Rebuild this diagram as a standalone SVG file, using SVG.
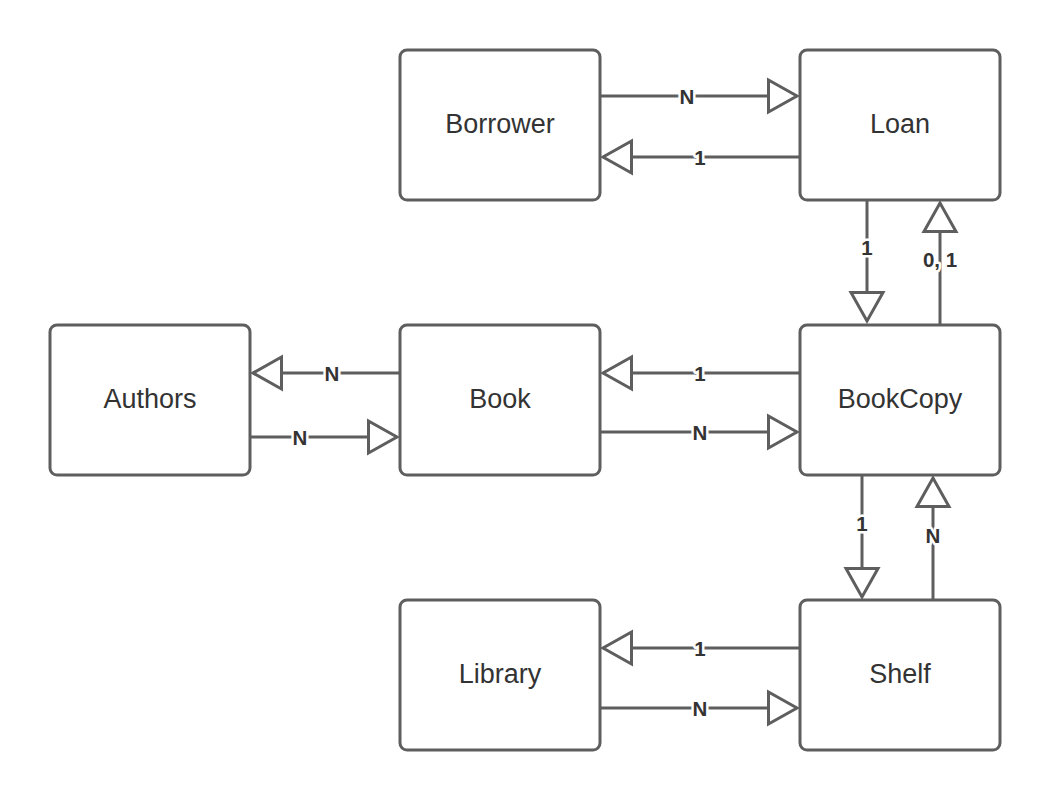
<svg xmlns="http://www.w3.org/2000/svg" width="1050" height="800" viewBox="0 0 1050 800">
<style>
.box{fill:#fff;stroke:#5e5e5e;stroke-width:3}
.name{font-family:"Liberation Sans",Arial,sans-serif;font-size:27px;fill:#333;text-anchor:middle}
.ln{fill:none;stroke:#5e5e5e;stroke-width:3;marker-end:url(#tri)}
.lbl{font-family:"Liberation Sans",Arial,sans-serif;font-size:20.5px;font-weight:bold;fill:#333;text-anchor:middle;stroke:#fff;stroke-width:5;paint-order:stroke;stroke-linejoin:round}
</style>
<defs>
<marker id="tri" markerUnits="userSpaceOnUse" markerWidth="36" markerHeight="40" viewBox="0 0 36 40" refX="31" refY="20" orient="auto">
<path d="M2.5,4 L31,20 L2.5,36 Z" fill="#fff" stroke="#5e5e5e" stroke-width="3" stroke-linejoin="miter"/>
</marker>
</defs>
<g id="connectors">
<line class="ln" x1="600" y1="96" x2="797" y2="96"/>
<text class="lbl" x="687" y="103.5">N</text>
<line class="ln" x1="800" y1="157" x2="603" y2="157"/>
<text class="lbl" x="700" y="164.5">1</text>
<line class="ln" x1="867" y1="200" x2="867" y2="321"/>
<text class="lbl" x="867" y="254.5">1</text>
<line class="ln" x1="940" y1="325" x2="940" y2="203"/>
<text class="lbl" x="940" y="267">0, 1</text>
<line class="ln" x1="400" y1="373" x2="253" y2="373"/>
<text class="lbl" x="332" y="380.5">N</text>
<line class="ln" x1="250" y1="437" x2="397" y2="437"/>
<text class="lbl" x="300" y="444.5">N</text>
<line class="ln" x1="800" y1="373" x2="603" y2="373"/>
<text class="lbl" x="700" y="380.5">1</text>
<line class="ln" x1="600" y1="432" x2="797" y2="432"/>
<text class="lbl" x="700" y="439.5">N</text>
<line class="ln" x1="862" y1="475" x2="862" y2="597"/>
<text class="lbl" x="862" y="530.5">1</text>
<line class="ln" x1="933" y1="600" x2="933" y2="478"/>
<text class="lbl" x="933" y="542.5">N</text>
<line class="ln" x1="800" y1="648" x2="603" y2="648"/>
<text class="lbl" x="700" y="655.5">1</text>
<line class="ln" x1="600" y1="708" x2="797" y2="708"/>
<text class="lbl" x="700" y="715.5">N</text>
</g>
<g id="borrower"><rect class="box" x="400" y="50" width="200" height="150" rx="7"/><text class="name" x="500" y="133">Borrower</text></g>
<g id="loan"><rect class="box" x="800" y="50" width="200" height="150" rx="7"/><text class="name" x="900" y="133">Loan</text></g>
<g id="authors"><rect class="box" x="50" y="325" width="200" height="150" rx="7"/><text class="name" x="150" y="408">Authors</text></g>
<g id="book"><rect class="box" x="400" y="325" width="200" height="150" rx="7"/><text class="name" x="500" y="408">Book</text></g>
<g id="bookcopy"><rect class="box" x="800" y="325" width="200" height="150" rx="7"/><text class="name" x="900" y="408">BookCopy</text></g>
<g id="library"><rect class="box" x="400" y="600" width="200" height="150" rx="7"/><text class="name" x="500" y="683">Library</text></g>
<g id="shelf"><rect class="box" x="800" y="600" width="200" height="150" rx="7"/><text class="name" x="900" y="683">Shelf</text></g>
</svg>
